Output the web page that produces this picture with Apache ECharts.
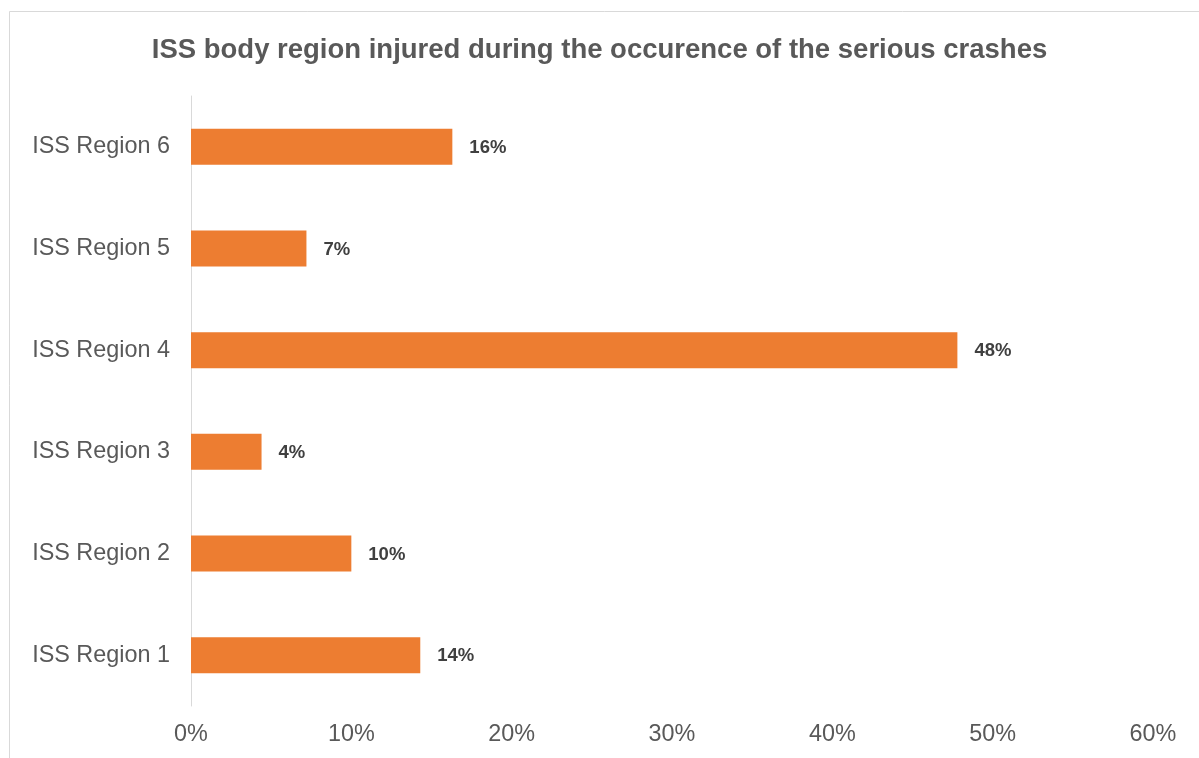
<!DOCTYPE html>
<html><head><meta charset="utf-8">
<script src="https://cdn.jsdelivr.net/npm/echarts@6/dist/echarts.min.js"></script>
<style>html,body{margin:0;padding:0;background:#fff}#c{width:1199px;height:758px}</style>
</head><body><div id="c"></div>
<script>
const categories = ['ISS Region 1','ISS Region 2','ISS Region 3','ISS Region 4','ISS Region 5','ISS Region 6'];
const values = [14.3, 10.0, 4.4, 47.8, 7.2, 16.3];
const titleText = 'ISS body region injured during the occurence of the serious crashes';

const chart = echarts.init(document.getElementById('c'), null, {renderer:'canvas'});
chart.setOption({
  backgroundColor:'#fff',
  animation:false,
  title:{text:titleText,left:'center',top:31,textStyle:{fontFamily:'Liberation Sans, Arial',fontWeight:'bold',fontSize:27.5,color:'#595959'}},
  graphic:[{type:'rect',shape:{x:9.5,y:11.5,width:1200,height:760},style:{fill:'none',stroke:'#d9d9d9',lineWidth:1},silent:true,z:-1}],
  grid:{left:191,right:46,top:96,bottom:52,containLabel:false},
  xAxis:{type:'value',min:0,max:60,interval:10,
    axisLabel:{formatter:'{value}%',fontFamily:'Liberation Sans, Arial',fontSize:23.4,color:'#595959',margin:17},
    splitLine:{show:false},axisLine:{show:false},axisTick:{show:false}},
  yAxis:{type:'category',data:categories,
    axisLine:{show:true,lineStyle:{color:'#d9d9d9',width:1}},axisTick:{show:false},
    axisLabel:{fontFamily:'Liberation Sans, Arial',fontSize:23.4,color:'#595959',margin:21}},
  series:[{type:'bar',data:values,barWidth:36,itemStyle:{color:'#ED7D31'},
    label:{show:true,position:'right',distance:17,formatter:p=>Math.round(p.value)+'%',
      fontFamily:'Liberation Sans, Arial',fontWeight:'bold',fontSize:18.5,color:'#404040',offset:[0,1]}}]
});
</script></body></html>
